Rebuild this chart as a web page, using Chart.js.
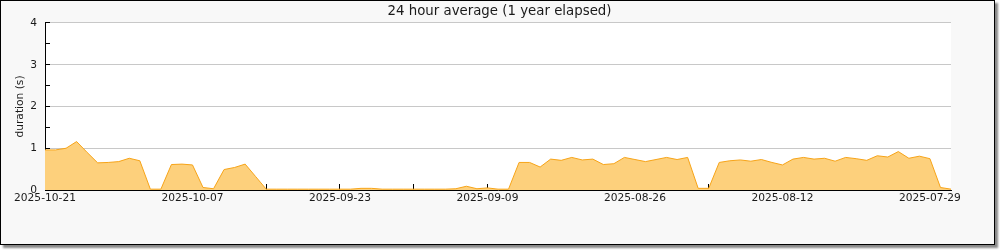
<!DOCTYPE html>
<html>
<head>
<meta charset="utf-8">
<script src="https://cdn.jsdelivr.net/npm/chart.js@4/dist/chart.umd.min.js"></script>
<style>
  body { margin: 0; background: #fff; }
  #frame {
    position: absolute; left: 0; top: 0;
    width: 993px; height: 243px;
    border: 1px solid #000;
    background: #f8f8f8;
    box-shadow: 3px 3px 2px #888;
  }
  #frame canvas { display: block; }
</style>
</head>
<body>
<div id="frame"><canvas id="myChart" width="993" height="243"></canvas></div>
<script>
const chartTitle = '24 hour average (1 year elapsed)'
const yTitle = 'duration (s)'

// one value per day, starting 2025-10-21 and going back in time
const durations = [
	0.96, 0.96, 1.00, 1.16, 0.90, 0.65, 0.66, 0.68, 0.76, 0.70,
	0.02, 0.02, 0.61, 0.62, 0.60, 0.06, 0.03, 0.49, 0.54, 0.62,
	0.32, 0.02, 0.02, 0.02, 0.02, 0.02, 0.02, 0.02, 0.02, 0.02,
	0.04, 0.04, 0.02, 0.02, 0.02, 0.02, 0.02, 0.02, 0.02, 0.03,
	0.09, 0.03, 0.05, 0.02, 0.02, 0.66, 0.66, 0.55, 0.74, 0.71,
	0.78, 0.72, 0.74, 0.61, 0.63, 0.78, 0.73, 0.68, 0.73, 0.78,
	0.73, 0.78, 0.04, 0.04, 0.66, 0.70, 0.72, 0.69, 0.73, 0.66,
	0.60, 0.74, 0.78, 0.74, 0.76, 0.69, 0.78, 0.75, 0.71, 0.82,
	0.79, 0.92, 0.76, 0.81, 0.75, 0.06, 0.02
]

// weekly ticks, a label on every second one
const weekLabels = [
	'2025-10-21', '2025-10-14', '2025-10-07', '2025-09-30', '2025-09-23',
	'2025-09-16', '2025-09-09', '2025-09-02', '2025-08-26', '2025-08-19',
	'2025-08-12', '2025-08-05', '2025-07-29'
]

const lineColor = '#f7a418'
const fillColor = '#fdd07c'
const textColor = '#1a1a1a'
const gridColor = '#c8c8c8'

Chart.defaults.font.family = 'DejaVu Sans'
Chart.defaults.font.size = 10.67
Chart.defaults.color = textColor

const plotBackground = {
	id: 'plotBackground',
	beforeDraw(chart) {
		const { ctx, chartArea: a } = chart
		ctx.save()
		ctx.fillStyle = '#fff'
		ctx.fillRect(a.left, a.top, a.right - a.left, a.bottom - a.top)
		ctx.restore()
	}
}

const ctx = document.getElementById('myChart').getContext('2d')
const chart = new Chart(ctx, {
	type: 'line',
	data: {
		datasets: [{
			data: durations.map((v, i) => ({ x: i, y: v })),
			borderColor: lineColor,
			backgroundColor: fillColor,
			borderWidth: 1,
			fill: 'origin',
			pointRadius: 0,
			tension: 0
		}]
	},
	options: {
		responsive: false,
		animation: false,
		layout: { padding: { left: 4, right: 0, top: 0, bottom: 0 } },
		plugins: {
			legend: { display: false },
			tooltip: { enabled: false },
			title: {
				display: true,
				text: chartTitle,
				font: { size: 13.33, weight: 'normal' },
				color: textColor,
				padding: { top: 3, bottom: 3 }
			}
		},
		scales: {
			x: {
				type: 'linear',
				min: 0,
				max: durations.length - 1,
				z: 1,
				grid: {
					drawOnChartArea: false,
					tickLength: -6,
					tickColor: '#000'
				},
				border: { color: '#000', width: 1 },
				ticks: {
					stepSize: 7,
					includeBounds: false,
					autoSkip: false,
					maxRotation: 0,
					padding: 8,
					callback: (v) => (v % 14 === 0 ? weekLabels[v / 7] : '')
				},
				afterFit: (s) => { s.height = 54 }
			},
			yGrid: {
				type: 'linear',
				position: 'left',
				min: 0,
				max: 4,
				grid: {
					color: (c) => (c.tick.value > 0 ? gridColor : 'rgba(0,0,0,0)'),
					drawTicks: false
				},
				border: { display: false },
				ticks: { display: false, stepSize: 1 },
				afterFit: (s) => { s.width = 0 }
			},
			y: {
				type: 'linear',
				position: 'left',
				min: 0,
				max: 4,
				z: 1,
				grid: {
					drawOnChartArea: false,
					tickLength: -5,
					tickColor: '#000'
				},
				border: { color: '#000', width: 1 },
				ticks: {
					stepSize: 0.5,
					padding: 13,
					callback: (v) => (v % 1 === 0 ? String(v) : '')
				},
				title: {
					display: true,
					text: yTitle,
					font: { size: 10.67 },
					padding: { top: 8.5, bottom: 0 }
				},
				afterFit: (s) => { s.width = 40 }
			},
			yRight: {
				type: 'linear',
				position: 'right',
				display: true,
				grid: { display: false },
				border: { display: false },
				ticks: { display: false },
				afterFit: (s) => { s.width = 43 }
			}
		}
	},
	plugins: [plotBackground]
})
</script>
</body>
</html>
